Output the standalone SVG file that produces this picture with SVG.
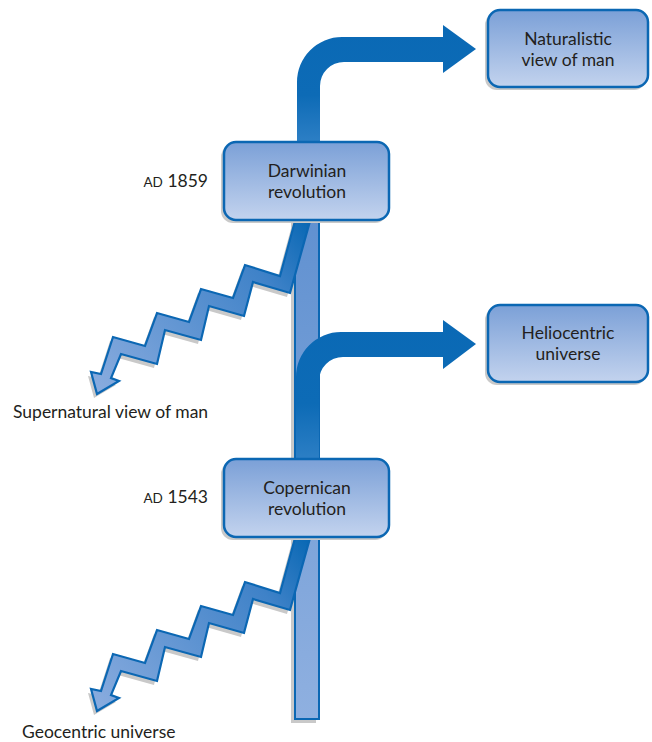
<svg xmlns="http://www.w3.org/2000/svg" width="652" height="742" viewBox="0 0 652 742">
<defs>
<linearGradient id="boxg" x1="0" y1="0" x2="0" y2="1">
<stop offset="0" stop-color="#7ba0d7"/>
<stop offset="1" stop-color="#c3d3ee"/>
</linearGradient>
<linearGradient id="barg" x1="0" y1="0" x2="0" y2="1">
<stop offset="0" stop-color="#5f90d0"/>
<stop offset="1" stop-color="#8fb0e0"/>
</linearGradient>
<linearGradient id="darkg1" gradientUnits="userSpaceOnUse" x1="0" y1="25" x2="0" y2="142">
<stop offset="0" stop-color="#0a69b5"/>
<stop offset="0.6" stop-color="#0d6bb6"/>
<stop offset="1" stop-color="#2d7fc5"/>
</linearGradient>
<linearGradient id="darkg2" gradientUnits="userSpaceOnUse" x1="0" y1="320" x2="0" y2="460">
<stop offset="0" stop-color="#0a69b5"/>
<stop offset="0.6" stop-color="#0d6bb6"/>
<stop offset="1" stop-color="#2d7fc5"/>
</linearGradient>
<linearGradient id="zigg" gradientUnits="userSpaceOnUse" x1="305" y1="222" x2="100" y2="390">
<stop offset="0" stop-color="#0b69b5"/>
<stop offset="0.25" stop-color="#3f82c8"/>
<stop offset="1" stop-color="#88abde"/>
</linearGradient>
<path id="zig" d="M295 221 L280 276 L245 265 L233 298 L201 289 L189 322 L157 313 L145 346 L113 337 L101 374 L91 372 L97 394 L119 381 L111 378 L121 354 L157 364 L165 330 L201 340 L209 306 L244 316 L253 282 L290 293 L310 221 Z"/>
</defs>
<style>
.box{fill:url(#boxg);stroke:#0b67b3;stroke-width:2.5}
.shadow{fill:#c9c9c9}
.t{font-family:Lato,"Open Sans","Liberation Sans",sans-serif;font-size:17.5px;fill:#231f20}
.sc{font-size:13.5px}
.bar{fill:url(#barg);stroke:#0b67b3;stroke-width:2}
.zig{stroke:#0b67b3;stroke-width:2.2;stroke-linejoin:miter}
</style>

<g id="connectors">
<rect x="291" y="203" width="25" height="520" class="shadow"/>
<rect x="295" y="200" width="24" height="519" class="bar"/>
<g id="zigzag-darwin">
<use href="#zig" transform="translate(-3,4)" class="shadow"/>
<use href="#zig" fill="url(#zigg)" class="zig"/>
</g>
<g id="zigzag-copernicus" transform="translate(0,317)">
<use href="#zig" transform="translate(-3,4)" class="shadow"/>
<use href="#zig" fill="url(#zigg)" class="zig"/>
</g>
<path id="arrow-naturalistic" fill="url(#darkg1)" d="M297 145 L297 82 A45 45 0 0 1 342 37 L443 37 L443 25 L476 49 L443 73 L443 62 L344 62 A24 24 0 0 0 320 86 L320 145 Z"/>
<path id="arrow-heliocentric" fill="url(#darkg2)" d="M296 462 L296 377 A45 45 0 0 1 341 332 L443 332 L443 320 L476 344 L443 369 L443 357 L343 357 A24 24 0 0 0 319 381 L319 462 Z"/>
</g>

<g id="node-naturalistic">
<rect x="485" y="13" width="161" height="77" rx="12" class="shadow"/>
<rect x="488" y="10" width="160" height="77" rx="12" class="box"/>
<text class="t" x="568" y="45" text-anchor="middle">Naturalistic</text>
<text class="t" x="568" y="66" text-anchor="middle">view of man</text>
</g>

<g id="node-darwinian">
<rect x="221" y="145" width="166" height="78" rx="12" class="shadow"/>
<rect x="224" y="142" width="165" height="78" rx="12" class="box"/>
<text class="t" x="307" y="177" text-anchor="middle">Darwinian</text>
<text class="t" x="307" y="198" text-anchor="middle">revolution</text>
</g>

<g id="node-heliocentric">
<rect x="485" y="308" width="161" height="77" rx="12" class="shadow"/>
<rect x="488" y="305" width="160" height="77" rx="12" class="box"/>
<text class="t" x="568" y="339" text-anchor="middle">Heliocentric</text>
<text class="t" x="568" y="360" text-anchor="middle">universe</text>
</g>

<g id="node-copernican">
<rect x="221" y="462" width="166" height="78" rx="12" class="shadow"/>
<rect x="224" y="459" width="165" height="78" rx="12" class="box"/>
<text class="t" x="307" y="494" text-anchor="middle">Copernican</text>
<text class="t" x="307" y="515" text-anchor="middle">revolution</text>
</g>

<g id="labels">
<text class="t" x="208" y="187" text-anchor="end"><tspan class="sc">AD</tspan> 1859</text>
<text class="t" x="208" y="503" text-anchor="end"><tspan class="sc">AD</tspan> 1543</text>
<text class="t" x="13" y="418">Supernatural view of man</text>
<text class="t" x="22" y="738">Geocentric universe</text>
</g>
</svg>
